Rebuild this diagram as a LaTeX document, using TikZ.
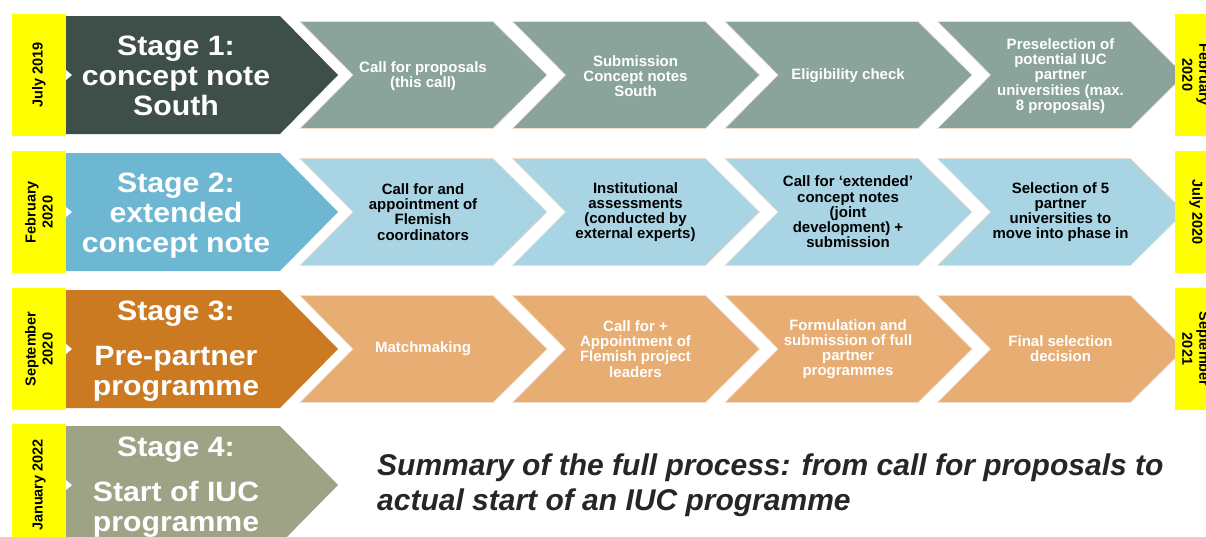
\documentclass[tikz,border=0pt]{standalone}
\usepackage{fontspec}
\setmainfont{Liberation Sans}
\definecolor{stA}{RGB}{62,79,74}
\definecolor{stpA}{RGB}{138,163,155}
\definecolor{stB}{RGB}{110,183,210}
\definecolor{stpB}{RGB}{168,212,228}
\definecolor{stC}{RGB}{204,122,34}
\definecolor{stpC}{RGB}{232,173,114}
\definecolor{stD}{RGB}{158,163,134}
\definecolor{datey}{RGB}{255,255,0}
\definecolor{summ}{RGB}{38,38,38}
\definecolor{edgec}{RGB}{240,222,208}
\begin{document}
\begin{tikzpicture}[x=1pt,y=-1pt,
  stagetxt/.style={text=white,font=\fontsize{28}{30}\selectfont\bfseries,align=center,inner sep=0pt,xscale=1.08,transform shape},
  steptxt/.style={font=\fontsize{15}{15.2}\selectfont\bfseries,align=center,inner sep=0pt},
  datetxt/.style={font=\fontsize{14.5}{17}\selectfont\bfseries,align=center,inner sep=0pt},
  yelbar/.style={fill=datey},
  stepshape/.style={draw=edgec,line width=0.6pt}
]
\useasboundingbox (0,0) rectangle (1206,536);
\clip (0,0) rectangle (1206,536);
\fill[white] (0,0) rectangle (1206,536);

% step chevrons
\foreach \c/\pc in {75/stpA,212/stpB,349/stpC}{
  \foreach \i in {0,...,3}{
    \pgfmathsetmacro\L{300+212.5*\i}
    \fill[\pc,stepshape] (\L,\c-53.5) -- ++(193,0) -- ++(54,53.5) -- ++(-54,53.5) -- ++(-193,0) -- ++(53,-53.5) -- cycle;
  }
}
% stage chevrons
\foreach \c/\sc in {75/stA,212/stB,349/stC,485/stD}{
  \fill[\sc] (66,\c-59) -- (280,\c-59) -- (338,\c) -- (280,\c+59) -- (66,\c+59) -- cycle;
  \fill[white] (66,\c-5) -- (72,\c) -- (66,\c+5) -- cycle;
}
% yellow date bars
\foreach \c in {75,212,349,485}{
  \fill[yelbar] (12,\c-61) rectangle (66,\c+61);
}
\foreach \c in {75,212,349}{
  \fill[yelbar] (1175,\c-61) rectangle (1232,\c+61);
}

% left dates
\node[datetxt,rotate=90] (dl1) at (39,75) {July 2019};
\node[datetxt,rotate=90] (dl2) at (39,212) {February\\2020};
\node[datetxt,rotate=90] (dl3) at (39,349) {September\\2020};
\node[datetxt,rotate=90] (dl4) at (39,485) {January 2022};
% right dates
\node[datetxt,rotate=-90] (dr1) at (1196,75) {February\\2020};
\node[datetxt,rotate=-90] (dr2) at (1196,212) {July 2020};
\node[datetxt,rotate=-90] (dr3) at (1196,349) {September\\2021};

% stage texts
\node[stagetxt,anchor=north] (stage1) at (176,75-39) {Stage 1:\\concept note\\South};
\node[stagetxt,anchor=north] (stage2) at (176,212-39) {Stage 2:\\extended\\concept note};
\node[stagetxt,anchor=north] (stage3) at (176,349-48) {Stage 3:\\[15pt]Pre-partner\\programme};
\node[stagetxt,anchor=north] (stage4) at (176,485-48) {Stage 4:\\[15pt]Start of IUC\\programme};

% row 1 steps
\node[steptxt,text=white] (a1) at (423,76) {Call for proposals\\(this call)};
\node[steptxt,text=white] (a2) at (635.5,76) {Submission\\Concept notes\\South};
\node[steptxt,text=white] (a3) at (848,76) {Eligibility check};
\node[steptxt,text=white] (a4) at (1060.5,76) {Preselection of\\potential IUC\\partner\\universities (max.\\8 proposals)};
% row 2 steps
\node[steptxt,text=black] (b1) at (423,212) {Call for and\\appointment of\\Flemish\\coordinators};
\node[steptxt,text=black] (b2) at (635.5,212) {Institutional\\assessments\\(conducted by\\external experts)};
\node[steptxt,text=black] (b3) at (848,212) {Call for ‘extended’\\concept notes\\(joint\\development) +\\submission};
\node[steptxt,text=black] (b4) at (1060.5,212) {Selection of 5\\partner\\universities to\\move into phase in};
% row 3 steps
\node[steptxt,text=white] (c1) at (423,349) {Matchmaking};
\node[steptxt,text=white] (c2) at (635.5,349) {Call for +\\Appointment of\\Flemish project\\leaders};
\node[steptxt,text=white] (c3) at (848,349) {Formulation and\\submission of full\\partner\\programmes};
\node[steptxt,text=white] (c4) at (1060.5,349) {Final selection\\decision};

% summary
\node[anchor=north west,inner sep=0pt,align=left,text=summ,font=\fontsize{30}{35}\selectfont\bfseries\itshape] (summary) at (377,454) {Summary of the full process: from call for proposals to\\actual start of an IUC programme};
\end{tikzpicture}
\end{document}
